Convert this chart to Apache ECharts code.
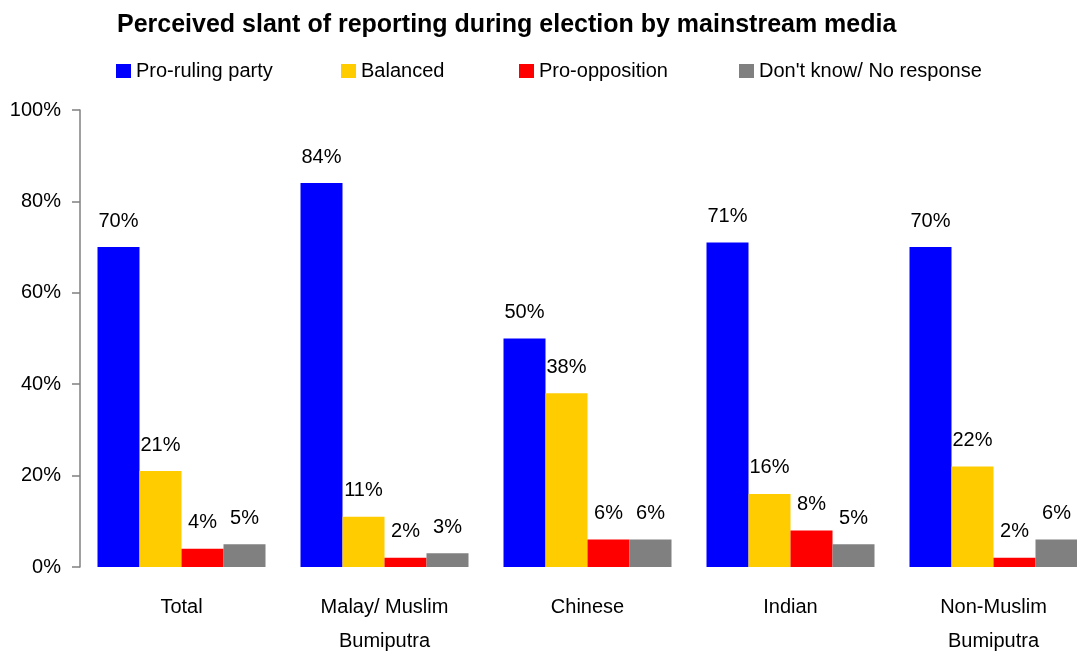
<!DOCTYPE html>
<html>
<head>
<meta charset="utf-8">
<script src="https://cdn.jsdelivr.net/npm/echarts@6/dist/echarts.min.js"></script>
<style>
  html, body { margin: 0; padding: 0; background: #fff; }
  #chart { width: 1077px; height: 654px; }
</style>
</head>
<body>
<div id="chart"></div>
<script>
// Survey groups along the x axis
const categories = ['Total', 'Malay/ Muslim\nBumiputra', 'Chinese', 'Indian', 'Non-Muslim\nBumiputra'];
// Share of respondents (%) per perceived slant
const proRuling   = [70, 84, 50, 71, 70];
const balanced    = [21, 11, 38, 16, 22];
const proOpp      = [4, 2, 6, 8, 2];
const dontKnow    = [5, 3, 6, 5, 6];
const seriesNames = ['Pro-ruling party', 'Balanced', 'Pro-opposition', "Don't know/ No response"];
const seriesColors = ['#0000FF', '#FFCC00', '#FF0000', '#808080'];
const yTicks = [0, 20, 40, 60, 80, 100];

const FONT = '"Liberation Sans", Arial, sans-serif';
const values = [proRuling, balanced, proOpp, dontKnow];
const legendLeft = [111, 336, 514, 734];

const chart = echarts.init(document.getElementById('chart'), null, { renderer: 'canvas' });

chart.setOption({
  animation: false,
  textStyle: { fontFamily: FONT },
  title: {
    text: 'Perceived slant of reporting during election by mainstream media',
    left: 112,
    top: 8,
    textStyle: { fontFamily: FONT, fontSize: 25, fontWeight: 'bold', color: '#000' }
  },
  legend: seriesNames.map((name, i) => ({
    data: [name],
    left: legendLeft[i],
    top: 56,
    icon: 'rect',
    itemWidth: 15,
    itemHeight: 14,
    itemGap: 0,
    textStyle: { fontFamily: FONT, fontSize: 20, color: '#000' }
  })),
  grid: {
    left: 80, top: 110, width: 1015, height: 457,
    containLabel: false, outerBoundsMode: 'none'
  },
  xAxis: {
    type: 'category',
    data: categories,
    axisLine: { show: false },
    axisTick: { show: false },
    axisLabel: {
      color: '#000', fontFamily: FONT, fontSize: 20, margin: 23, lineHeight: 34
    }
  },
  yAxis: {
    type: 'value',
    min: 0, max: 100, interval: 20,
    axisLine: { show: true, lineStyle: { color: '#808080', width: 1.5 } },
    axisTick: { show: true, inside: false, length: 8, lineStyle: { color: '#808080', width: 1.5 } },
    splitLine: { show: false },
    axisLabel: {
      color: '#000', fontFamily: FONT, fontSize: 20, margin: 19,
      formatter: v => yTicks.includes(v) ? v + '%' : ''
    }
  },
  series: seriesNames.map((name, i) => ({
    name,
    type: 'bar',
    data: values[i],
    barWidth: 42,
    barGap: '0%',
    itemStyle: { color: seriesColors[i] },
    label: {
      show: true,
      position: 'top',
      distance: 16,
      formatter: '{c}%',
      color: '#000',
      fontFamily: FONT,
      fontSize: 20
    }
  }))
});
</script>
</body>
</html>
